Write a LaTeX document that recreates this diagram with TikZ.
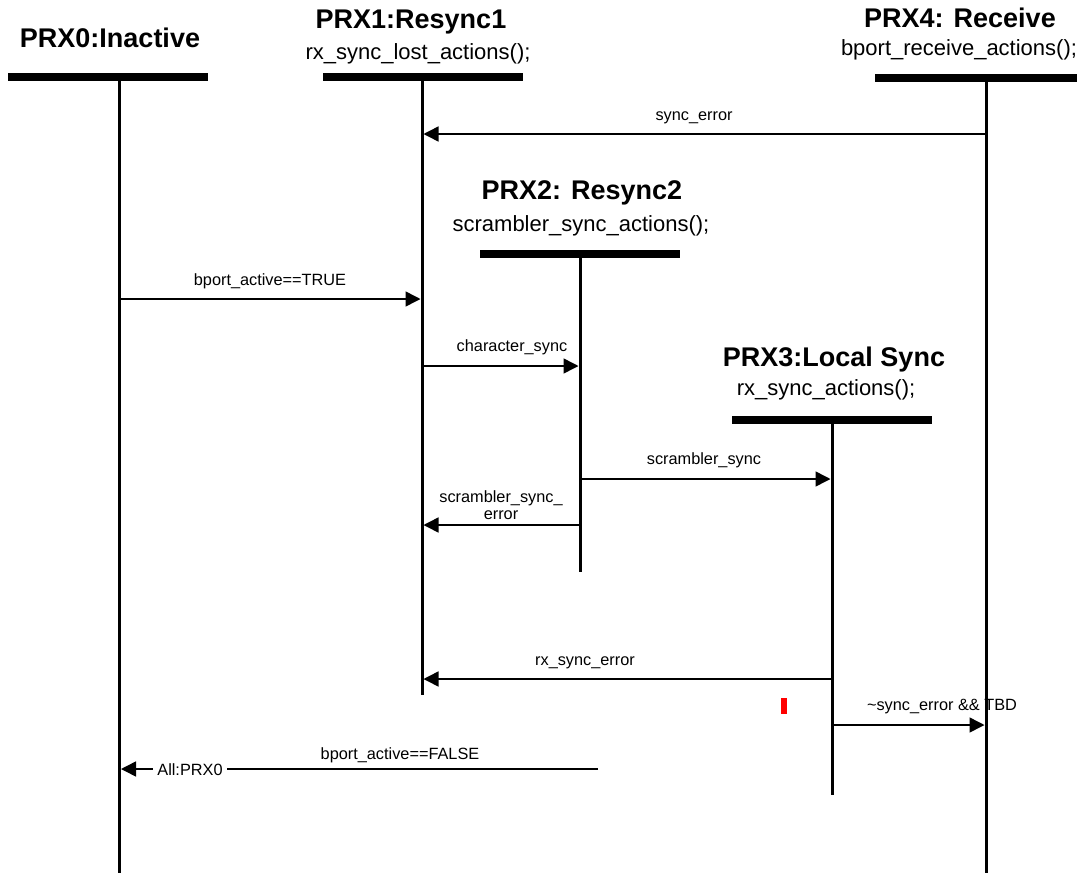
\documentclass[tikz,border=0pt]{standalone}
\usepackage{fontspec}
\setmainfont{Liberation Sans}
\usetikzlibrary{arrows.meta}
\begin{document}
\begin{tikzpicture}[x=1pt,y=-1pt,
  bar/.style={line width=8pt},
  life/.style={line width=3pt},
  msg/.style={line width=1.5pt,-{Triangle[length=15pt,width=15pt]}},
  ttl/.style={font=\fontsize{27}{32}\selectfont\bfseries, inner sep=0pt, anchor=base},
  sub/.style={font=\fontsize{22}{26}\selectfont, inner sep=0pt, anchor=base},
  lbl/.style={font=\fontsize{16.3}{19}\selectfont, inner sep=0pt, anchor=base, align=center}]
\useasboundingbox (0,0) rectangle (1077,873);

% PRX0
\node[ttl] (t0) at (110,47.5) {PRX0:Inactive};
\coordinate (b0l) at (8,77); \coordinate (b0r) at (208,77);
\coordinate (l0t) at (119.5,80); \coordinate (l0b) at (119.5,873);
\draw[bar] (b0l) -- (b0r);
\draw[life] (l0t) -- (l0b);

% PRX1
\node[ttl] (t1) at (411,28) {PRX1:Resync1};
\node[sub] (s1) at (418,59) {rx\_sync\_lost\_actions();};
\coordinate (b1l) at (323,77); \coordinate (b1r) at (523,77);
\coordinate (l1t) at (422,80); \coordinate (l1b) at (422,695);
\draw[bar] (b1l) -- (b1r);
\draw[life] (l1t) -- (l1b);

% PRX4
\node[ttl] (t4) at (960,27) {PRX4: Receive};
\node[sub] (s4) at (959,55) {bport\_receive\_actions();};
\coordinate (b4l) at (875,77.5); \coordinate (b4r) at (1077,77.5);
\coordinate (l4t) at (986,80); \coordinate (l4b) at (986,873);
\draw[bar] (b4l) -- (b4r);
\draw[life] (l4t) -- (l4b);

% PRX2
\node[ttl] (t2) at (582,199) {PRX2: Resync2};
\node[sub] (s2) at (581,231) {scrambler\_sync\_actions();};
\coordinate (b2l) at (480,254); \coordinate (b2r) at (680,254);
\coordinate (l2t) at (580,257); \coordinate (l2b) at (580,572);
\draw[bar] (b2l) -- (b2r);
\draw[life] (l2t) -- (l2b);

% PRX3
\node[ttl] (t3) at (834,366) {PRX3:Local Sync};
\node[sub] (s3) at (826,395) {rx\_sync\_actions();};
\coordinate (b3l) at (732,420); \coordinate (b3r) at (932,420);
\coordinate (l3t) at (832,423); \coordinate (l3b) at (832,795);
\draw[bar] (b3l) -- (b3r);
\draw[life] (l3t) -- (l3b);

% messages
\coordinate (m1s) at (986,134); \coordinate (m1e) at (423.5,134);
\draw[msg] (m1s) -- (m1e);
\node[lbl] (n1) at (694,120) {sync\_error};

\coordinate (m2s) at (119.5,299); \coordinate (m2e) at (420.5,299);
\draw[msg] (m2s) -- (m2e);
\node[lbl] (n2) at (270,285) {bport\_active==TRUE};

\coordinate (m3s) at (422,366); \coordinate (m3e) at (578.5,366);
\draw[msg] (m3s) -- (m3e);
\node[lbl] (n3) at (512,351) {character\_sync};

\coordinate (m4s) at (580,479); \coordinate (m4e) at (830.5,479);
\draw[msg] (m4s) -- (m4e);
\node[lbl] (n4) at (704,464) {scrambler\_sync};

\coordinate (m5s) at (580,525); \coordinate (m5e) at (423.5,525);
\draw[msg] (m5s) -- (m5e);
\node[lbl, anchor=center] (n5) at (501,505) {scrambler\_sync\_\\[-2pt]error};

\coordinate (m6s) at (832,679); \coordinate (m6e) at (423.5,679);
\draw[msg] (m6s) -- (m6e);
\node[lbl] (n6) at (585,665) {rx\_sync\_error};

\coordinate (m7s) at (832,725); \coordinate (m7e) at (984.5,725);
\draw[msg] (m7s) -- (m7e);
\node[lbl] (n7) at (942,710) {\textasciitilde sync\_error \&\& TBD};

\coordinate (m8s) at (598,769); \coordinate (m8e) at (121,769);
\draw[msg] (m8s) -- (m8e);
\node[lbl, anchor=center, fill=white, inner xsep=4pt, inner ysep=2pt] (n8b) at (190,770) {All:PRX0};
\node[lbl] (n8) at (400,759) {bport\_active==FALSE};

% red mark
\fill[red] (781,698) rectangle (787,714);
\end{tikzpicture}
\end{document}
